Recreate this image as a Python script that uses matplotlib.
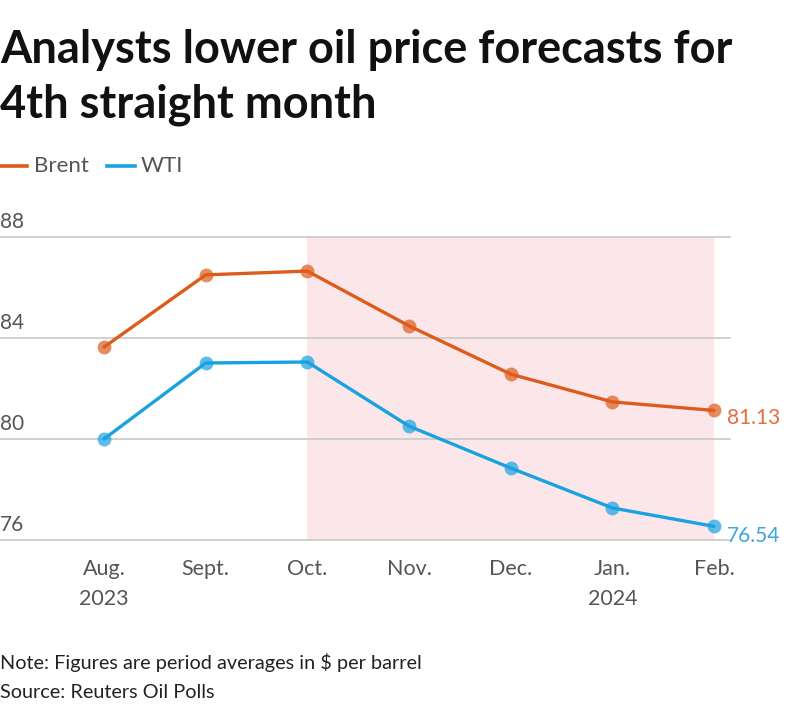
import matplotlib
matplotlib.use('Agg')
import matplotlib.pyplot as plt

plt.rcParams['font.family'] = ['Lato', 'DejaVu Sans']

months = ['Aug.\n2023', 'Sept.', 'Oct.', 'Nov.', 'Dec.', 'Jan.\n2024', 'Feb.']
brent = [83.64, 86.50, 86.65, 84.48, 82.57, 81.47, 81.13]
wti = [80.00, 83.01, 83.05, 80.51, 78.85, 77.27, 76.54]
yticks = [76, 80, 84, 88]

BRENT_C = '#DD5C1C'
WTI_C = '#18A2E2'
W, H = 800, 711


def fx(px):
    return px / W


def fy(py):
    return 1 - py / H


fig = plt.figure(figsize=(8, 7.11), dpi=100)
ax = fig.add_axes([0, fy(540), fx(730), fy(237) - fy(540)])

x = list(range(len(months)))
ax.set_xlim(-1.023, 6.157)
ax.set_ylim(76, 88)

ax.axvspan(2, 6, color='#FBE7E9', zorder=0, lw=0)
for t in yticks:
    ax.axhline(t, color='#c8c8c8', lw=1.2, zorder=1, clip_on=False)

ax.plot(x, brent, color=BRENT_C, lw=2.4, zorder=3, solid_capstyle='round')
ax.plot(x, brent, 'o', color=BRENT_C, ms=10, alpha=0.7, mec='none', zorder=4)
ax.plot(x, wti, color=WTI_C, lw=2.4, zorder=3, solid_capstyle='round')
ax.plot(x, wti, 'o', color=WTI_C, ms=10, alpha=0.7, mec='none', zorder=4)

# end labels sit a little below their points
ax.text(6.13, brent[-1] - 0.28, '%.2f' % brent[-1], color='#E07040', fontsize=15,
        va='center', ha='left', clip_on=False)
ax.text(6.13, wti[-1] - 0.38, '%.2f' % wti[-1], color='#3DA6DC', fontsize=15,
        va='center', ha='left', clip_on=False)

ax.set_xticks(x)
ax.set_xticklabels(months, fontsize=15.5, color='#555555', linespacing=1.6)
ax.tick_params(axis='x', length=0, pad=14)
ax.set_yticks([])
for s in ax.spines.values():
    s.set_visible(False)
ax.patch.set_alpha(0)

for t in yticks:
    ax.text(-1.023, t + 0.2, str(t), fontsize=15, color='#555555',
            ha='left', va='bottom')

fig.text(0, fy(63), 'Analysts lower oil price forecasts for', fontsize=32.5,
         fontweight='bold', color='#111111', ha='left', va='baseline')
fig.text(0, fy(118), '4th straight month', fontsize=32.5,
         fontweight='bold', color='#111111', ha='left', va='baseline')

# legend
fig.add_artist(plt.Line2D([fx(0), fx(27)], [fy(166), fy(166)], color=BRENT_C, lw=2.6,
                          transform=fig.transFigure))
fig.text(fx(34), fy(166), 'Brent', fontsize=16, color='#555555', va='center')
fig.add_artist(plt.Line2D([fx(107), fx(135)], [fy(166), fy(166)], color=WTI_C, lw=2.6,
                          transform=fig.transFigure))
fig.text(fx(141), fy(166), 'WTI', fontsize=16, color='#555555', va='center')

fig.text(0, fy(663), 'Note: Figures are period averages in $ per barrel', fontsize=14.3,
         color='#222222', va='center')
fig.text(0, fy(692), 'Source: Reuters Oil Polls', fontsize=14.3, color='#222222', va='center')

fig.savefig('out.png', dpi=100, facecolor='white')
